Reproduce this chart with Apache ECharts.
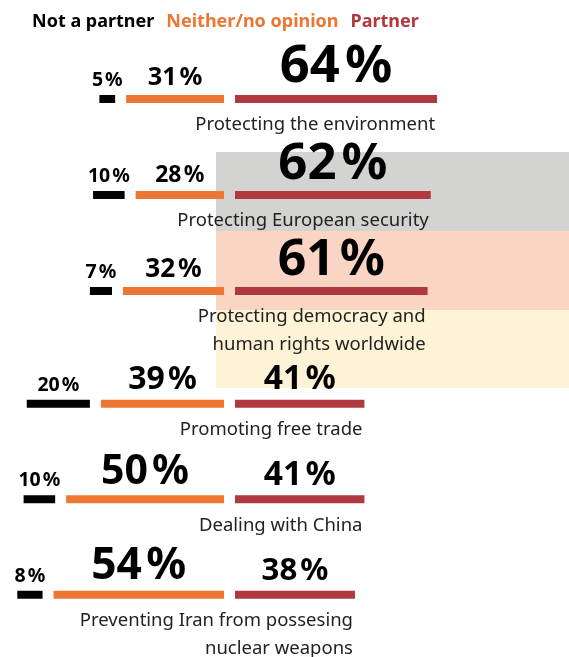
<!DOCTYPE html>
<html>
<head>
<meta charset="utf-8">
<script src="https://cdn.jsdelivr.net/npm/echarts@6/dist/echarts.min.js"></script>
<style>
  html, body { margin: 0; padding: 0; background: #fff; }
  #chart { width: 569px; height: 657px; }
</style>
</head>
<body>
<div id="chart"></div>
<script>
// 数据
const categories = [
  'Protecting the environment',
  'Protecting European security',
  'Protecting democracy and\nhuman rights worldwide',
  'Promoting free trade',
  'Dealing with China',
  'Preventing Iran from possesing\nnuclear weapons'
];
const notPartner = [5, 10, 7, 20, 10, 8];
const neither = [31, 28, 32, 39, 50, 54];
const partner = [64, 62, 61, 41, 41, 38];

const seriesNames = ['Not a partner', 'Neither/no opinion', 'Partner'];
const colors = ['#000000', '#ec7632', '#b0393f'];

// 样式常量
const GAP = 3.48;           // 段之间的空隙 (轴单位)
const FONT = '"Noto Sans", sans-serif';

// 数值标签字号随数值变化
const labelSize = v => Math.max(19.5, v * 0.82);

const valueItem = (v, sign) => {
  const fs = labelSize(v);
  return {
    value: sign * v,
    label: { fontSize: fs, lineHeight: fs, distance: 7 - 0.11 * fs }
  };
};

const transparent = 'rgba(0,0,0,0)';

const makeSeries = (gi, from, to) => {
  const idx = { xAxisIndex: gi, yAxisIndex: gi };
  const base = {
    type: 'bar',
    stack: 'row' + gi,
    barWidth: 8,
    barGap: '-100%',
    emphasis: { disabled: true },
    animation: false
  };
  const valLabel = {
    show: true,
    position: 'top',
    color: '#000',
    fontFamily: FONT,
    fontWeight: 'bold',
    formatter: p => Math.abs(p.value) + '\u200A%'
  };
  const gapData = categories.slice(from, to).map(() => -GAP);
  return [
    Object.assign({}, base, idx, {
      name: 'gap-inner', data: gapData, silent: true,
      itemStyle: { color: transparent }
    }),
    Object.assign({}, base, idx, {
      name: seriesNames[1],
      data: neither.slice(from, to).map(v => valueItem(v, -1)),
      itemStyle: { color: colors[1] },
      label: valLabel
    }),
    Object.assign({}, base, idx, {
      name: 'gap-outer', data: gapData, silent: true,
      itemStyle: { color: transparent }
    }),
    Object.assign({}, base, idx, {
      name: seriesNames[0],
      data: notPartner.slice(from, to).map(v => valueItem(v, -1)),
      itemStyle: { color: colors[0] },
      label: valLabel
    }),
    Object.assign({}, base, idx, {
      name: seriesNames[2],
      data: partner.slice(from, to).map(v => valueItem(v, 1)),
      itemStyle: { color: colors[2] },
      label: valLabel
    }),
    // 类别名称, 右对齐在红色条末端下方
    Object.assign({}, base, idx, {
      name: 'names',
      stack: null,
      data: partner.slice(from, to),
      silent: true,
      itemStyle: { color: transparent },
      label: {
        show: true,
        position: ['100%', '100%'],
        offset: [-2, 8],
        align: 'right',
        verticalAlign: 'top',
        formatter: '{b}',
        color: '#222',
        fontFamily: FONT,
        fontSize: 18.5,
        lineHeight: 28
      }
    })
  ];
};

const chart = echarts.init(document.getElementById('chart'));

const xAxisCfg = gi => ({ type: 'value', gridIndex: gi, min: -70, max: 70, show: false });
const yAxisCfg = (gi, from, to) => ({
  type: 'category', gridIndex: gi, inverse: true, show: false,
  data: categories.slice(from, to)
});

const option = {
  backgroundColor: '#fff',
  animation: false,
  legend: {
    top: 12,
    left: 27,
    padding: 0,
    icon: 'none',
    itemWidth: 0,
    itemGap: 7,
    selectedMode: false,
    textStyle: { fontFamily: FONT, fontSize: 18, fontWeight: 'bold', lineHeight: 20 },
    data: seriesNames.map((n, i) => ({ name: n, textStyle: { color: colors[i] } }))
  },
  graphic: [
    { type: 'rect', z: 0, shape: { x: 216, y: 152, width: 353, height: 79 }, style: { fill: '#d3d3d1' } },
    { type: 'rect', z: 0, shape: { x: 216, y: 231, width: 353, height: 79 }, style: { fill: '#fbd5c4' } },
    { type: 'rect', z: 0, shape: { x: 216, y: 310, width: 353, height: 78 }, style: { fill: '#fef3d6' } }
  ],
  grid: [
    { left: 14, width: 442, top: 51, height: 288 },
    { left: 14, width: 442, top: 356, height: 286.5 }
  ],
  xAxis: [xAxisCfg(0), xAxisCfg(1)],
  yAxis: [yAxisCfg(0, 0, 3), yAxisCfg(1, 3, 6)],
  series: [...makeSeries(0, 0, 3), ...makeSeries(1, 3, 6)]
};

chart.setOption(option);
</script>
</body>
</html>
